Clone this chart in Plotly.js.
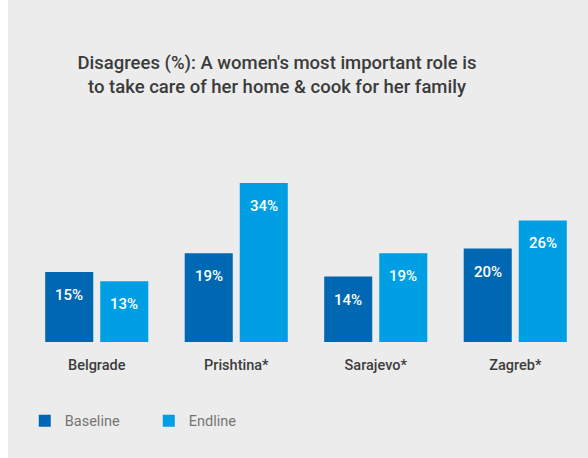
<!DOCTYPE html>
<html>
<head>
<meta charset="utf-8">
<script src="https://cdn.plot.ly/plotly-3.0.1.min.js"></script>
<style>html,body{margin:0;padding:0;background:#fff;}#chart{width:588px;height:458px;}</style>
</head>
<body>
<div id="chart"></div>
<script>
const categories = ["Belgrade", "Prishtina*", "Sarajevo*", "Zagreb*"];
const baseline = [15, 19, 14, 20];
const endline = [13, 34, 19, 26];
const seriesNames = ["Baseline", "Endline"];
const seriesColors = ["#0068b3", "#009fe3"];
const titleText = "Disagrees (%): A women's most important role is<br>to take care of her home & cook for her family";

const FONT = "Roboto, 'Open Sans', sans-serif";
const series = [baseline, endline];

const traces = series.map((vals, i) => ({
  type: "bar",
  name: seriesNames[i],
  x: categories,
  y: vals,
  marker: {color: seriesColors[i]},
  hoverinfo: "skip"
}));

const annotations = [];
series.forEach((vals, i) => {
  vals.forEach((v, j) => {
    annotations.push({
      x: categories[j], y: v, xref: "x", yref: "y",
      text: v + "%", showarrow: false,
      xshift: i === 0 ? -27.5 : 27.5, yshift: -23,
      yanchor: "middle", xanchor: "center",
      font: {family: FONT, size: 15, color: "#ffffff", weight: 500}
    });
  });
});

const layout = {
  width: 588, height: 458, autosize: false,
  margin: {l: 27, r: 3, t: 155, b: 116, pad: 0},
  paper_bgcolor: "#ececec",
  plot_bgcolor: "#ececec",
  barmode: "group",
  bargap: 0.211,
  bargroupgap: 0.127,
  title: {
    text: titleText,
    x: 277 / 588, xanchor: "center", xref: "container",
    y: 1 - 69 / 458, yanchor: "middle", yref: "container",
    font: {family: FONT, size: 18.5, color: "#3b3b3b", weight: 500}
  },
  xaxis: {
    type: "category",
    showgrid: false, zeroline: false, showline: false,
    ticks: "", ticklabelstandoff: 12,
    tickfont: {family: FONT, size: 14.5, color: "#3d3d3d", weight: 500},
    fixedrange: true
  },
  yaxis: {
    range: [0, 40], visible: false, fixedrange: true
  },
  showlegend: true,
  legend: {
    orientation: "h",
    x: -0.004, xanchor: "left", xref: "paper",
    y: -0.422, yanchor: "middle", yref: "paper",
    entrywidth: 79,
    bgcolor: "rgba(0,0,0,0)",
    font: {family: FONT, size: 14.5, color: "#757575"},
    traceorder: "normal"
  },
  shapes: [
    {type: "rect", xref: "paper", yref: "paper", x0: -0.1, x1: 1.1, y0: 1 + 330 / 187, y1: 1 + 355 / 187, fillcolor: "#ffffff", line: {width: 0}, layer: "below"},
    {type: "rect", xref: "paper", yref: "paper", x0: -27 / 558, x1: -19 / 558, y0: -1, y1: 3, fillcolor: "#ffffff", line: {width: 0}, layer: "below"}
  ],
  annotations: annotations
};

Plotly.newPlot("chart", traces, layout, {displayModeBar: false, staticPlot: true});
</script>
</body>
</html>
